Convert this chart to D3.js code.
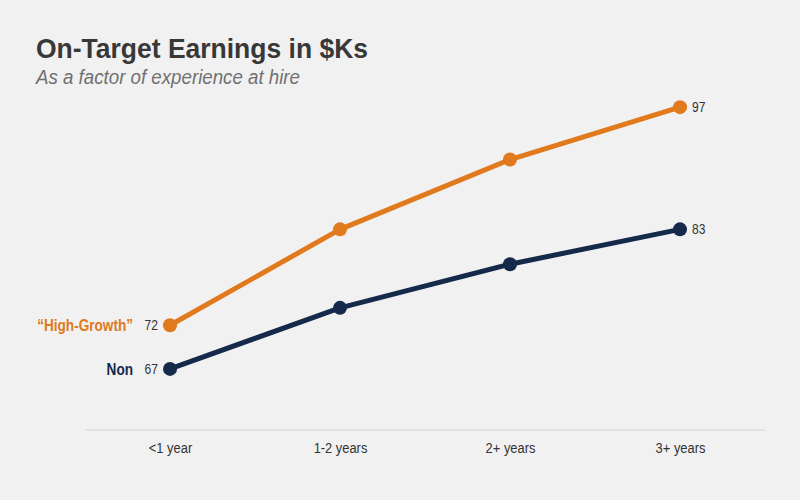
<!DOCTYPE html>
<html>
<head>
<meta charset="utf-8">
<script src="https://cdn.jsdelivr.net/npm/d3@7"></script>
<style>
  body { margin: 0; background: #f1f1f1; }
  #chart { width: 800px; height: 500px; }
  text { font-family: "Liberation Sans", Arial, sans-serif; }
</style>
</head>
<body>
<div id="chart"></div>
<script>
// data
const categories = ["<1 year", "1-2 years", "2+ years", "3+ years"];
const highGrowth = [72, 83, 91, 97];
const nonGrowth = [67, 74, 79, 83];
const seriesNames = ["\u201cHigh-Growth\u201d", "Non"];

const width = 800;
const height = 500;
const margin = { top: 81, right: 35, bottom: 70, left: 85 };

const orange = "#e07a1c";
const navy = "#15294a";

// narrow text by scaling x around its anchor point
const narrowAt = (sel, px, py, k) => sel
    .attr("x", 0)
    .attr("y", 0)
    .attr("transform", `translate(${px},${py}) scale(${k},1)`);

const svg = d3.select("#chart")
    .append("svg")
    .attr("width", width)
    .attr("height", height);

svg.append("rect")
    .attr("width", width)
    .attr("height", height)
    .attr("fill", "#f1f1f1");

// scales
const x = d3.scalePoint()
    .domain(categories)
    .range([margin.left, width - margin.right])
    .padding(0.5);

const y = d3.scaleLinear()
    .domain([60, 100])
    .range([height - margin.bottom, margin.top]);

// title
svg.append("text")
    .attr("x", 36)
    .attr("y", 58)
    .attr("font-size", 28)
    .attr("font-weight", "bold")
    .attr("fill", "#383838")
    .attr("textLength", 332)
    .attr("lengthAdjust", "spacingAndGlyphs")
    .text("On-Target Earnings in $Ks");

svg.append("text")
    .attr("x", 36)
    .attr("y", 84)
    .attr("font-size", 20)
    .attr("font-style", "italic")
    .attr("fill", "#707070")
    .attr("textLength", 264)
    .attr("lengthAdjust", "spacingAndGlyphs")
    .text("As a factor of experience at hire");

// x axis
const xAxis = svg.append("g")
    .attr("transform", `translate(0, ${y(60)})`)
    .call(d3.axisBottom(x).tickSize(0).tickPadding(12));
xAxis.select(".domain")
    .attr("d", `M${margin.left},0H${width - margin.right}`)
    .attr("stroke", "#dcdcdc")
    .attr("stroke-width", 1.5);
xAxis.selectAll(".tick text")
    .attr("font-size", 15)
    .attr("fill", "#333")
    .attr("transform", "scale(0.86,1)");

const line = d3.line()
    .x((d, i) => x(categories[i]))
    .y(d => y(d));

const series = [
    { name: seriesNames[0], values: highGrowth, color: orange },
    { name: seriesNames[1], values: nonGrowth, color: navy }
];

series.forEach(s => {
    const g = svg.append("g");
    g.append("path")
        .datum(s.values)
        .attr("fill", "none")
        .attr("stroke", s.color)
        .attr("stroke-width", 5)
        .attr("stroke-linejoin", "round")
        .attr("d", line);
    g.selectAll("circle")
        .data(s.values)
        .join("circle")
        .attr("cx", (d, i) => x(categories[i]))
        .attr("cy", d => y(d))
        .attr("r", 7)
        .attr("fill", s.color);

    const first = s.values[0];
    const last = s.values[s.values.length - 1];
    // start value label
    g.append("text")
        .attr("dy", "0.35em")
        .attr("text-anchor", "end")
        .attr("font-size", 14)
        .attr("fill", "#333")
        .text(first)
        .call(narrowAt, x(categories[0]) - 12, y(first), 0.86);
    // series name
    g.append("text")
        .attr("dy", "0.35em")
        .attr("text-anchor", "end")
        .attr("font-size", 16)
        .attr("font-weight", "bold")
        .attr("fill", s.color)
        .text(s.name)
        .call(narrowAt, x(categories[0]) - 37, y(first), 0.85);
    // end value label
    g.append("text")
        .attr("dy", "0.35em")
        .attr("font-size", 14)
        .attr("fill", "#333")
        .text(last)
        .call(narrowAt, x(categories[categories.length - 1]) + 12, y(last), 0.86);
});
</script>
</body>
</html>
